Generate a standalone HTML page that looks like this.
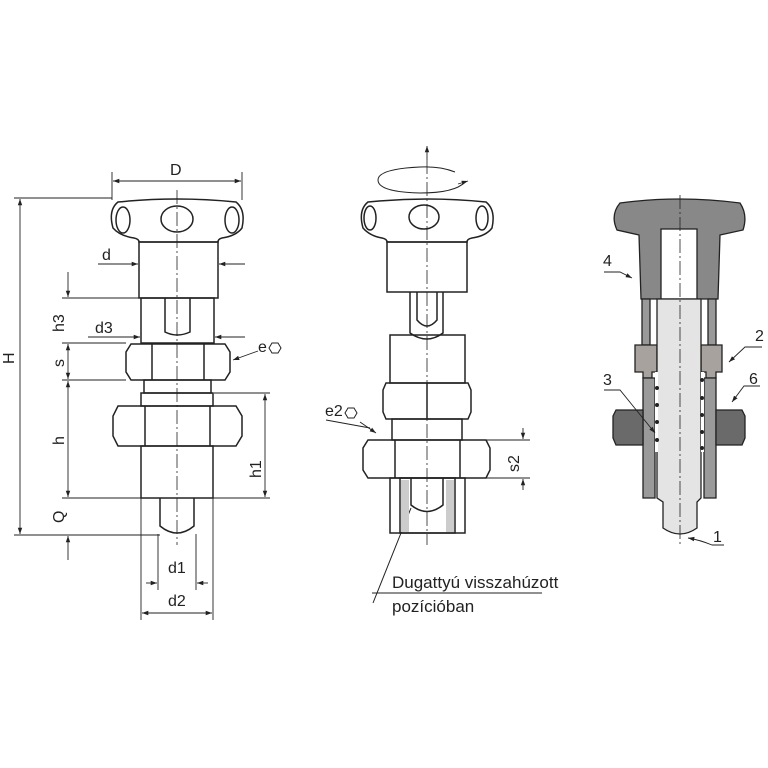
<!DOCTYPE html>
<html><head><meta charset="utf-8"><style>body{margin:0;background:#fff}svg{display:block}text{font-family:"Liberation Sans",sans-serif;fill:#222}</style></head><body>
<svg width="768" height="768" viewBox="0 0 768 768" xmlns="http://www.w3.org/2000/svg">
<defs><marker id="a" viewBox="0 0 10 10" refX="10" refY="5" markerWidth="7" markerHeight="7" orient="auto-start-reverse"><path d="M0,1.5L10,5L0,8.5z" fill="#222"/></marker></defs>
<g fill="none" stroke="#222" stroke-width="1.5">
<!-- LEFT -->
<path d="M118,202 Q177,196 236,202 Q246,210 242,228 Q236,236 222,238 Q218,239 218,242 L139,242 Q139,239 134,238 Q120,236 113,228 Q108,210 118,202Z"/>
<ellipse cx="177" cy="219" rx="16" ry="13"/><ellipse cx="123" cy="220" rx="7" ry="13"/><ellipse cx="232" cy="220" rx="7" ry="13"/>
<rect x="139" y="242" width="79" height="56"/>
<rect x="141" y="298" width="73" height="45"/>
<path d="M165,298 V332 Q177,338 190,332 V298"/>
<path d="M131,344 H225 L230,352 V372 L225,380 H131 L126,372 V352Z"/><path d="M152,344 V380 M204,344 V380"/>
<rect x="144" y="380" width="67" height="13"/><rect x="141" y="393" width="72" height="13"/>
<path d="M118,406 H236 L242,416 V436 L236,446 H118 L113,436 V416Z"/><path d="M145,406 V446 M210,406 V446"/>
<rect x="141" y="446" width="72" height="52"/>
<path d="M160,498 V526 Q177,540 194,526 V498"/>
<!-- MIDDLE -->
<path d="M368,202 Q427,196 486,202 Q496,210 492,228 Q486,236 472,238 Q467,239 467,242 L387,242 Q387,239 382,238 Q370,236 363,228 Q358,210 368,202Z"/>
<ellipse cx="424" cy="217" rx="15" ry="12"/><ellipse cx="370" cy="218" rx="6" ry="12"/><ellipse cx="482" cy="218" rx="6" ry="12"/>
<rect x="387" y="242" width="80" height="50"/>
<path d="M410,292 V333 Q427,345 443,333 V292 M417,292 V320 Q427,332 437,320 V292"/>
<rect x="390" y="335" width="75" height="48"/>
<path d="M386,383 H468 L471,390 V412 L468,419 H386 L383,412 V390Z M427,383 V419"/>
<rect x="392" y="419" width="70" height="21"/>
<path d="M368,440 H486 L490,448 V470 L486,478 H368 L363,470 V448Z M395,440 V478 M460,440 V478"/>
<rect x="390" y="478" width="75" height="55"/>
<rect x="400" y="478" width="55" height="55"/>
<path d="M411,478 V505 Q427,518 443,505 V478"/>
<path d="M455,172 Q440,166 420,167 Q378,169 378,180 Q378,192 420,193 Q455,193 465,182" stroke-width="1"/>
<!-- leaders text -->
<path d="M372,593 H542 M373,603 L411,508" stroke-width="1"/>
</g>
<rect x="401" y="480" width="8" height="52" fill="#ccc"/><rect x="446" y="480" width="8" height="52" fill="#ccc"/>
<!-- RIGHT section -->
<g stroke="#222" stroke-width="1.3">
<path d="M620,203 Q679,195 740,203 Q748,215 743,230 L720,235 L718,299 L641,299 L639,235 L617,230 Q610,215 620,203Z" fill="#888"/>
<rect x="661" y="229" width="36" height="70" fill="#fff"/>
<path d="M642,299 H650 V345 H642Z M708,299 H716 V345 H708Z" fill="#999"/>
<path d="M635,345 H657 V372 H652 V378 L643,378 V372 H635Z M701,345 H722 V372 H716 V378 H706 V372 H701Z" fill="#a8a29e"/>
<path d="M643,378 H655 V498 H643Z M704,378 H716 V498 H704Z" fill="#9a9a9a"/>
<path d="M616,410 H643 V445 H616 L613,438 V416Z M716,410 H742 L745,416 V438 L742,445 H716Z" fill="#6a6a6a"/>
<path d="M657,299 H701 V498 L697,502 V528 Q680,540 663,528 V502 L657,498Z" fill="#e4e4e4"/>
<rect x="655" y="372" width="3" height="80" fill="#fff" stroke="none"/>
<rect x="701" y="372" width="3" height="80" fill="#fff" stroke="none"/>
</g>
<g fill="#222"><circle cx="657" cy="388" r="2"/><circle cx="657" cy="405" r="2"/><circle cx="657" cy="422" r="2"/><circle cx="657" cy="440" r="2"/><circle cx="702" cy="380" r="2"/><circle cx="702" cy="398" r="2"/><circle cx="702" cy="415" r="2"/><circle cx="702" cy="432" r="2"/><circle cx="702" cy="448" r="2"/></g>
<!-- centerlines -->
<g stroke="#222" stroke-width="0.8" stroke-dasharray="14 3 2 3" fill="none">
<path d="M177,190 V545"/><path d="M427,160 V545"/><path d="M680,195 V545"/>
</g>
<!-- dims -->
<g stroke="#222" stroke-width="0.9" fill="none">
<path d="M112,172 V200 M242,172 V200"/>
<path d="M113,181 H241" marker-start="url(#a)" marker-end="url(#a)"/>
<path d="M14,198 H112 M14,535 H160"/>
<path d="M20,199 V534" marker-start="url(#a)" marker-end="url(#a)"/>
<path d="M98,264 H138" marker-end="url(#a)"/><path d="M245,264 H219" marker-end="url(#a)"/>
<path d="M88,337 H140" marker-end="url(#a)"/><path d="M245,337 H215" marker-end="url(#a)"/>
<path d="M62,298 H141 M62,343 H126 M62,380 H126 M62,498 H270 M214,393 H270"/>
<path d="M68,272 V297" marker-end="url(#a)"/><path d="M68,344 V379" marker-start="url(#a)" marker-end="url(#a)"/>
<path d="M68,381 V497" marker-start="url(#a)" marker-end="url(#a)"/><path d="M68,560 V536" marker-end="url(#a)"/>
<path d="M265,394 V497" marker-start="url(#a)" marker-end="url(#a)"/>
<path d="M158,534 V590 M196,534 V590 M141,498 V620 M213,498 V620"/>
<path d="M146,583 H157" marker-end="url(#a)"/><path d="M208,583 H197" marker-end="url(#a)"/>
<path d="M142,613 H212" marker-start="url(#a)" marker-end="url(#a)"/>
<path d="M258,351 L233,360" marker-end="url(#a)"/>
<path d="M326,420 L370,428" /><path d="M360,422 L376,433" marker-end="url(#a)"/>
<path d="M486,440 H530 M486,478 H530"/>
<path d="M523,428 V439" marker-end="url(#a)"/><path d="M523,490 V479" marker-end="url(#a)"/>
<path d="M427,146 V160" marker-start="url(#a)"/>
<path d="M458,184 L468,181" marker-end="url(#a)"/>
<path d="M604,272 H620 L632,278" marker-end="url(#a)"/>
<path d="M762,347 H745 L729,362" marker-end="url(#a)"/>
<path d="M760,386 H744 L732,402" marker-end="url(#a)"/>
<path d="M604,390 H620 L655,433" marker-end="url(#a)"/>
<path d="M724,545 H712 Q700,540 688,538" marker-end="url(#a)"/>
</g>
<g font-size="16">
<text x="170" y="175">D</text>
<text x="102" y="260">d</text>
<text x="95" y="333">d3</text>
<text x="258" y="352">e</text>
<polygon points="272,343 278,343 281,348 278,353 272,353 269,348" fill="none" stroke="#222"/>
<text x="168" y="573">d1</text><text x="168" y="606">d2</text>
<text transform="translate(14,364) rotate(-90)">H</text>
<text transform="translate(64,332) rotate(-90)">h3</text>
<text transform="translate(64,367) rotate(-90)">s</text>
<text transform="translate(64,445) rotate(-90)">h</text>
<text transform="translate(64,523) rotate(-90)">Q</text>
<text transform="translate(261,478) rotate(-90)">h1</text>
<text transform="translate(519,472) rotate(-90)">s2</text>
<text x="325" y="416">e2</text>
<polygon points="348,408 354,408 357,413 354,418 348,418 345,413" fill="none" stroke="#222"/>
<text x="603" y="266">4</text><text x="755" y="341">2</text><text x="603" y="385">3</text><text x="749" y="384">6</text><text x="713" y="542">1</text>
<text x="392" y="588" font-size="17">Dugattyú visszahúzott</text>
<text x="392" y="612" font-size="17">pozícióban</text>
</g>
</svg>
</body></html>
